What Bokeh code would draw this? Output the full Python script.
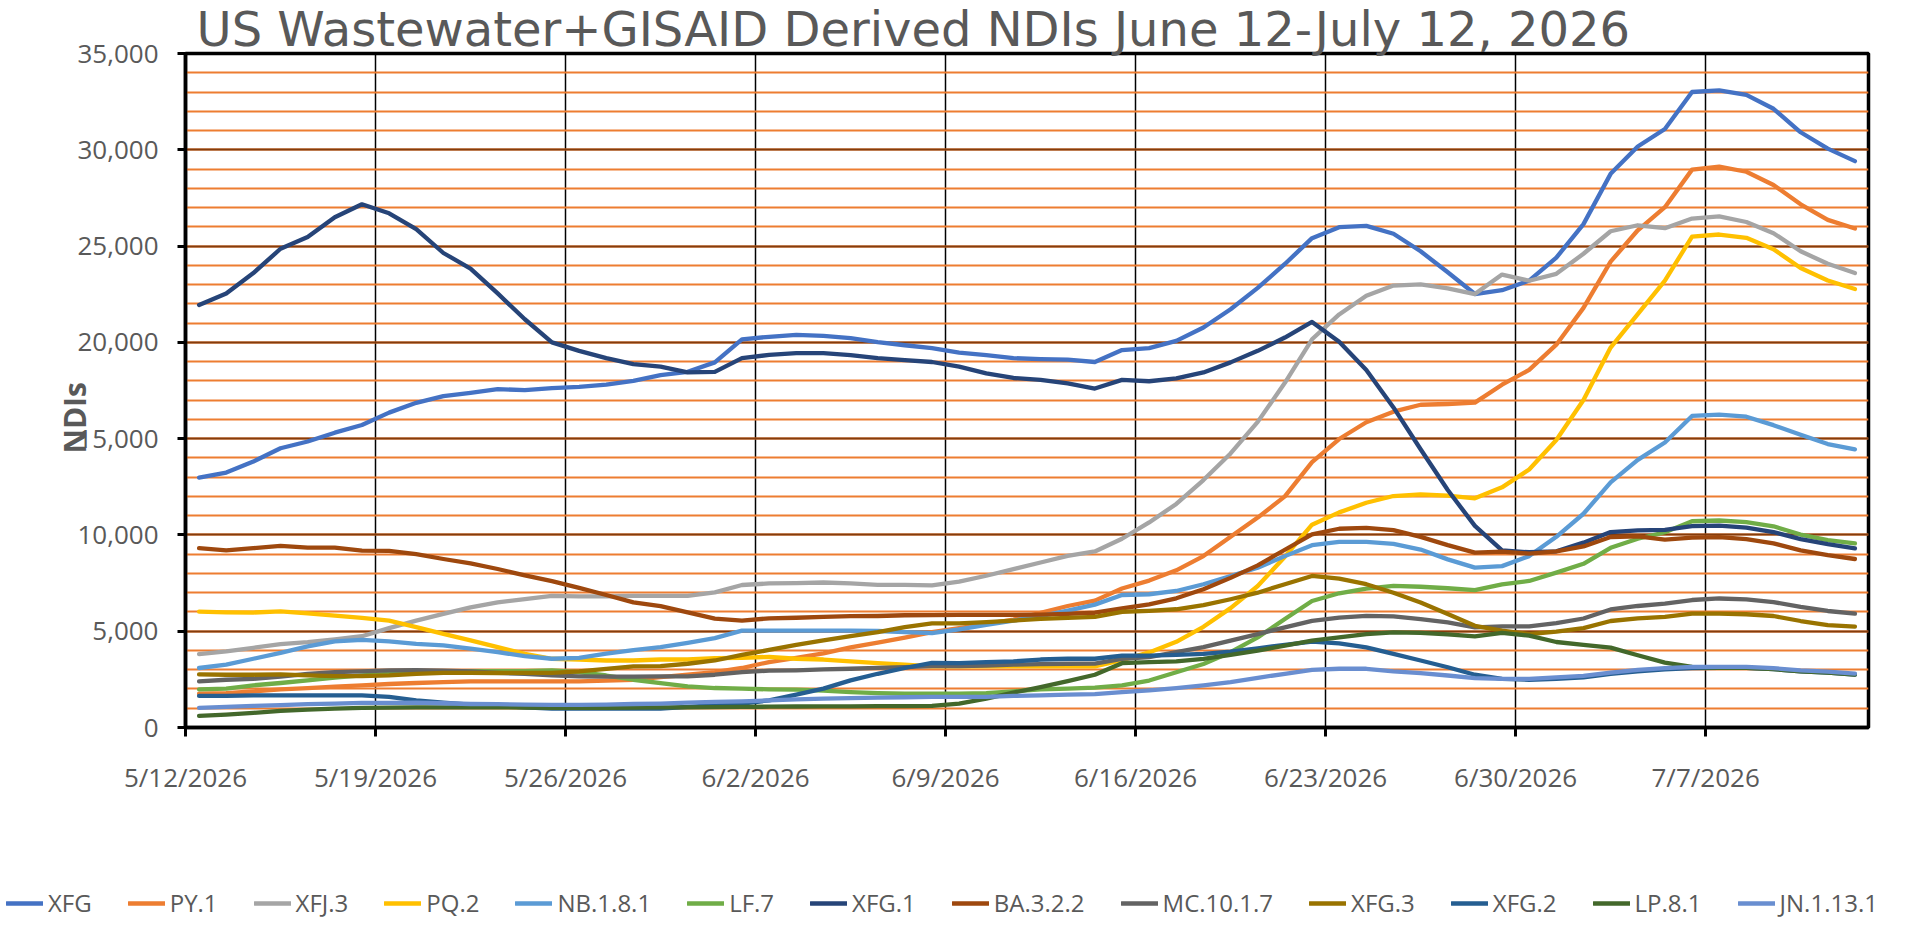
import numpy as np
from bokeh.plotting import figure
from bokeh.models import (Range1d, FixedTicker, SingleIntervalTicker, NumeralTickFormatter,
                          Legend, LegendItem, Title)
from bokeh.embed import file_html
from bokeh.resources import INLINE

# daily NDI estimates, 5/12/2026 .. 7/12/2026 (one value per day)
XFG = [12980, 13240, 13810, 14500, 14850, 15310, 15710, 16350, 16860, 17210,
       17380, 17570, 17520, 17620, 17690, 17810, 18000, 18300, 18470, 18960,
       20160, 20290, 20390, 20340, 20220, 20010, 19850, 19700, 19470, 19340,
       19180, 19130, 19100, 18980, 19600, 19700, 20080, 20770, 21720, 22830,
       24070, 25410, 25980, 26050, 25640, 24730, 23640, 22510, 22710, 23210,
       24400, 26140, 28750, 30170, 31080, 33000, 33090, 32850, 32130, 30910,
       30060, 29410]
PY1 = [1760, 1790, 1880, 1980, 2050, 2120, 2190, 2260, 2310, 2360,
       2400, 2400, 2400, 2400, 2400, 2430, 2480, 2620, 2740, 2880,
       3090, 3400, 3620, 3850, 4160, 4410, 4670, 4950, 5160, 5380,
       5600, 5960, 6310, 6590, 7220, 7630, 8160, 8900, 9900, 10900,
       12000, 13780, 14980, 15850, 16400, 16760, 16800, 16870, 17800, 18570,
       19880, 21790, 24190, 25820, 27020, 28970, 29130, 28860, 28170, 27170,
       26360, 25910]
XFJ3 = [3810, 3950, 4140, 4330, 4430, 4570, 4740, 5160, 5550, 5900,
        6240, 6500, 6670, 6840, 6810, 6810, 6840, 6840, 6840, 7020,
        7400, 7480, 7500, 7530, 7480, 7410, 7410, 7380, 7570, 7880,
        8220, 8570, 8910, 9140, 9800, 10650, 11610, 12850, 14230, 15870,
        17900, 20160, 21450, 22420, 22950, 23010, 22800, 22510, 23520, 23200,
        23560, 24600, 25770, 26080, 25930, 26430, 26540, 26250, 25670, 24730,
        24080, 23600]
PQ2 = [6020, 5980, 5970, 6030, 5930, 5810, 5690, 5550, 5210, 4860,
       4520, 4170, 3830, 3570, 3530, 3480, 3480, 3530, 3530, 3600,
       3620, 3670, 3570, 3530, 3430, 3340, 3260, 3170, 3170, 3170,
       3170, 3170, 3170, 3170, 3500, 3900, 4450, 5230, 6200, 7350,
       8870, 10530, 11170, 11670, 12020, 12110, 12040, 11900, 12470, 13400,
       14930, 17010, 19730, 21470, 23210, 25490, 25600, 25430, 24840, 23860,
       23210, 22770]
NB181 = [3090, 3260, 3570, 3880, 4210, 4470, 4550, 4470, 4340, 4260,
         4090, 3910, 3710, 3570, 3620, 3830, 4020, 4170, 4400, 4640,
         5030, 5030, 5030, 5030, 5030, 5010, 4950, 4900, 5090, 5330,
         5550, 5780, 6070, 6380, 6880, 6920, 7090, 7440, 7870, 8300,
         8900, 9470, 9640, 9640, 9540, 9240, 8730, 8300, 8380, 8900,
         9900, 11100, 12730, 13900, 14800, 16180, 16250, 16140, 15700, 15200,
         14720, 14440]
LF7 = [1980, 2020, 2190, 2310, 2450, 2590, 2710, 2790, 2840, 2910,
       2930, 2930, 2930, 2970, 2880, 2700, 2480, 2300, 2140, 2050,
       2020, 1980, 1970, 1910, 1840, 1790, 1760, 1760, 1760, 1790,
       1880, 1980, 2020, 2070, 2190, 2440, 2870, 3300, 3910, 4680,
       5630, 6570, 6970, 7210, 7350, 7310, 7230, 7130, 7430, 7610,
       8040, 8500, 9330, 9800, 10140, 10710, 10750, 10660, 10450, 10020,
       9730, 9560]
XFG1 = [21940, 22540, 23600, 24860, 25470, 26500, 27170, 26700, 25880, 24640,
        23830, 22540, 21200, 20000, 19560, 19180, 18870, 18740, 18440, 18470,
        19180, 19350, 19440, 19440, 19340, 19180, 19080, 18980, 18740, 18390,
        18150, 18050, 17870, 17600, 18050, 17980, 18130, 18440, 18960, 19560,
        20250, 21060, 20030, 18570, 16620, 14450, 12330, 10470, 9200, 9100,
        9150, 9600, 10150, 10240, 10260, 10460, 10480, 10380, 10150, 9780,
        9520, 9300]
BA322 = [9310, 9200, 9310, 9430, 9340, 9340, 9190, 9170, 9000, 8750,
         8520, 8230, 7900, 7600, 7250, 6880, 6500, 6300, 5980, 5650,
         5550, 5670, 5700, 5740, 5780, 5790, 5830, 5840, 5850, 5850,
         5850, 5860, 5900, 5960, 6190, 6390, 6710, 7180, 7770, 8420,
         9230, 10030, 10320, 10370, 10250, 9900, 9470, 9080, 9130, 9030,
         9150, 9400, 9890, 9930, 9760, 9860, 9890, 9780, 9560, 9200,
         8950, 8750]
MC1017 = [2400, 2480, 2530, 2640, 2780, 2880, 2910, 2970, 2980, 2950,
          2910, 2840, 2780, 2710, 2660, 2640, 2640, 2660, 2660, 2740,
          2880, 2950, 2970, 3020, 3050, 3100, 3140, 3190, 3190, 3220,
          3260, 3290, 3310, 3320, 3560, 3650, 3910, 4170, 4510, 4850,
          5200, 5540, 5710, 5800, 5770, 5630, 5460, 5200, 5250, 5250,
          5420, 5660, 6130, 6310, 6430, 6620, 6700, 6650, 6510, 6260,
          6050, 5910]
XFG3 = [2760, 2740, 2740, 2760, 2710, 2670, 2670, 2710, 2790, 2840,
        2840, 2830, 2840, 2840, 2910, 3050, 3170, 3190, 3310, 3480,
        3770, 4030, 4290, 4530, 4740, 4950, 5210, 5410, 5410, 5470,
        5550, 5640, 5690, 5740, 6010, 6060, 6140, 6350, 6660, 7000,
        7440, 7870, 7730, 7440, 7000, 6490, 5890, 5280, 5030, 4850,
        4980, 5160, 5530, 5670, 5740, 5910, 5910, 5880, 5790, 5530,
        5320, 5240]
XFG2 = [1640, 1640, 1670, 1670, 1670, 1670, 1670, 1590, 1410, 1290,
        1190, 1120, 1050, 980, 980, 980, 980, 980, 1070, 1160,
        1240, 1410, 1710, 2020, 2450, 2790, 3090, 3360, 3340, 3400,
        3430, 3530, 3570, 3570, 3730, 3730, 3770, 3820, 3940, 4110,
        4290, 4460, 4370, 4160, 3820, 3480, 3130, 2740, 2530, 2480,
        2520, 2600, 2780, 2920, 3020, 3090, 3100, 3100, 3030, 2920,
        2850, 2750]
LP81 = [600, 670, 760, 860, 930, 980, 1020, 1030, 1050, 1050,
        1050, 1050, 1030, 1020, 1020, 1020, 1030, 1040, 1050, 1060,
        1070, 1080, 1090, 1100, 1100, 1110, 1110, 1120, 1240, 1500,
        1810, 2100, 2410, 2740, 3340, 3390, 3430, 3560, 3770, 3990,
        4250, 4510, 4680, 4850, 4940, 4910, 4840, 4730, 4910, 4770,
        4440, 4290, 4150, 3750, 3370, 3150, 3100, 3100, 3030, 2920,
        2850, 2750]
JN11131 = [1020, 1070, 1120, 1160, 1210, 1240, 1280, 1280, 1290, 1260,
           1220, 1210, 1190, 1170, 1170, 1190, 1220, 1240, 1290, 1330,
           1360, 1410, 1460, 1500, 1530, 1550, 1570, 1590, 1590, 1590,
           1640, 1670, 1710, 1730, 1840, 1930, 2050, 2190, 2360, 2580,
           2790, 2990, 3050, 3050, 2910, 2820, 2700, 2560, 2530, 2530,
           2600, 2680, 2850, 2990, 3080, 3150, 3150, 3150, 3080, 2970,
           2900, 2800]

names = ["XFG", "PY.1", "XFJ.3", "PQ.2", "NB.1.8.1", "LF.7", "XFG.1",
         "BA.3.2.2", "MC.10.1.7", "XFG.3", "XFG.2", "LP.8.1", "JN.1.13.1"]
values = [XFG, PY1, XFJ3, PQ2, NB181, LF7, XFG1, BA322, MC1017, XFG3, XFG2, LP81, JN11131]
colors = ["#4472C4", "#ED7D31", "#A5A5A5", "#FFC000", "#5B9BD5", "#70AD47", "#264478",
          "#9E480E", "#636363", "#997300", "#255E91", "#43682B", "#698ED0"]

tick_labels = ["5/12/2026", "5/19/2026", "5/26/2026", "6/2/2026", "6/9/2026",
               "6/16/2026", "6/23/2026", "6/30/2026", "7/7/2026"]
title = "US Wastewater+GISAID Derived NDIs June 12-July 12,  2026"
y_title = "NDIs"

n_days = len(XFG)
days = np.arange(n_days) + 0.5   # points sit in the middle of each day
tick_pos = [7 * k for k in range(len(tick_labels))]

gray = "#595959"
line_w = 4.3

# main chart
p = figure(width=1889, height=810, x_range=Range1d(0, n_days), y_range=Range1d(0, 35000),
           output_backend="svg", toolbar_location=None, title=None,
           min_border_left=185, min_border_right=21, min_border_top=53, min_border_bottom=83)
p.outline_line_color = "black"
p.outline_line_width = 3.5

p.add_layout(Title(text=title, text_font="DejaVu Sans", text_font_size="48px", text_color=gray,
                   text_font_style="normal", align="left", offset=11, standoff=-7), "above")

# x axis: weekly date ticks
p.xaxis.ticker = FixedTicker(ticks=tick_pos)
p.xaxis.major_label_overrides = {t: s for t, s in zip(tick_pos, tick_labels)}
p.xaxis.major_label_text_font = "Open Sans"
p.xaxis.major_label_text_font_size = "26px"
p.xaxis.major_label_text_color = gray
p.xaxis.major_label_standoff = 22
p.xaxis.axis_line_width = 3.5
p.xaxis.major_tick_line_width = 3
p.xaxis.major_tick_out = 9
p.xaxis.major_tick_in = 0
p.xaxis.minor_tick_line_color = None
p.xgrid.grid_line_color = "black"
p.xgrid.grid_line_width = 1.5

# y axis
p.yaxis.ticker = SingleIntervalTicker(interval=5000, num_minor_ticks=5)
p.yaxis.formatter = NumeralTickFormatter(format="0,0")
p.yaxis.major_label_text_font = "Open Sans"
p.yaxis.major_label_text_font_size = "26px"
p.yaxis.major_label_text_color = gray
p.yaxis.major_label_standoff = 19
p.yaxis.axis_line_width = 3.5
p.yaxis.major_tick_line_width = 3
p.yaxis.major_tick_out = 8
p.yaxis.major_tick_in = 0
p.yaxis.minor_tick_line_color = None
p.ygrid.grid_line_color = "#843C0C"
p.ygrid.grid_line_width = 2
p.ygrid.minor_grid_line_color = "#ED7D31"
p.ygrid.minor_grid_line_width = 2

# y title: starts a bit below the middle, close to the tick labels
p.add_layout(Title(text=y_title, text_font="Open Sans", text_font_size="30px",
                   text_font_style="bold", text_color=gray, align="left",
                   offset=274, standoff=-40), "left")

for vals, col in zip(values, colors):
    p.line(days, vals, line_color=col, line_width=line_w, line_join="round", line_cap="round")

# legend strip under the chart; its lines are the same series kept out of view
leg = figure(width=1889, height=108, x_range=Range1d(0, n_days), y_range=Range1d(-2, -1),
             output_backend="svg", toolbar_location=None,
             x_axis_location=None, y_axis_location=None, title=None,
             min_border_left=0, min_border_right=0, min_border_top=0, min_border_bottom=0)
leg.outline_line_color = None
leg.xgrid.visible = False
leg.ygrid.visible = False

items = []
for name, vals, col in zip(names, values, colors):
    r = leg.line(days, vals, line_color=col, line_width=line_w, line_cap="round")
    items.append(LegendItem(label=name, renderers=[r]))

legend = Legend(items=items, orientation="horizontal", location=(6, -1),
                label_text_font="Open Sans", label_text_font_size="24px",
                label_text_color=gray, glyph_width=37, glyph_height=26, label_height=26,
                label_standoff=5, spacing=36, padding=0, margin=0,
                border_line_color=None, background_fill_alpha=0)
leg.add_layout(legend)

open("out.html", "w").write(file_html([p, leg], INLINE))
